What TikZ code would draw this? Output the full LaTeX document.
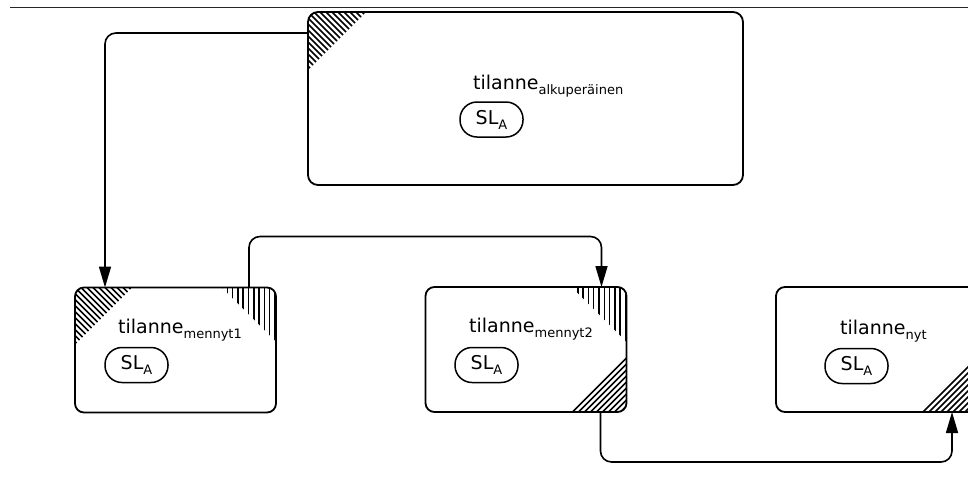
\documentclass[tikz,border=0pt]{standalone}
\usepackage{fontspec}
\setmainfont{DejaVu Sans}
\usetikzlibrary{arrows.meta,calc}

% situation label: "tilanne" with a lowered subscript
\newcommand{\sitname}[1]{\fontsize{19}{22}\selectfont tilanne\raisebox{-5pt}{\fontsize{13}{14}\selectfont #1}}
\newcommand{\slA}{\fontsize{19}{22}\selectfont SL\raisebox{-5pt}{\fontsize{13}{14}\selectfont A}}

% hatched corner triangles, clipped to the rounded box
\newcommand{\hatchNW}[2]{%
  \begin{scope}
    \clip[rounded corners=9pt] (#1.north west) rectangle (#1.south east);
    \clip (#1.north west) -- ++(#2,0) -- ++(-#2,#2) -- cycle;
    \foreach \c in {-66,-60,...,66}
      \draw[hatchline] ($(#1.north west)+(\c-10,-10)$) -- ++(100,100);
  \end{scope}}
\newcommand{\hatchNE}[2]{%
  \begin{scope}
    \clip[rounded corners=9pt] (#1.north west) rectangle (#1.south east);
    \clip (#1.north east) -- ++(-#2,0) -- ++(#2,#2) -- cycle;
    \foreach \c in {1,6.3,...,70}
      \draw[hatchline] ($(#1.north east)+(-\c,-5)$) -- ++(0,90);
  \end{scope}}
\newcommand{\hatchSE}[2]{%
  \begin{scope}
    \clip[rounded corners=9pt] (#1.north west) rectangle (#1.south east);
    \clip (#1.south east) -- ++(-#2,0) -- ++(#2,-#2) -- cycle;
    \foreach \c in {-66,-60,...,10}
      \draw[hatchline] ($(#1.south east)+(\c-10,10)$) -- ++(100,-100);
  \end{scope}}

\begin{document}
\begin{tikzpicture}[x=1pt,y=-1pt,
  box/.style={draw,line width=1.8pt,rounded corners=9pt,inner sep=0pt,outer sep=0pt,
              minimum width=201pt,minimum height=125pt},
  bigbox/.style={box,rounded corners=10pt,minimum width=435pt,minimum height=173pt},
  pill/.style={draw,line width=1.5pt,rounded corners=17pt,inner sep=0pt,outer sep=0pt,
               minimum width=63pt,minimum height=35pt},
  label/.style={inner sep=0pt,anchor=base west},
  hatchline/.style={line width=1.5pt},
  conn/.style={line width=1.6pt,rounded corners=11pt,-{Triangle[length=21pt,width=12pt]}}]

\clip (0,0) rectangle (968,488);

% rule along the top
\draw[line width=1pt,black!85] (10,7) -- (968,7);

% situation boxes
\node[bigbox] (alk) at (525.5,98.5) {};
\node[box] (m1) at (175.5,350) {};
\node[box] (m2) at (526,349.5) {};
\node[box] (nyt) at (876.5,349.5) {};

% hatched corners
\hatchNW{alk}{58}
\hatchNW{m1}{57}
\hatchNE{m1}{54}
\hatchNE{m2}{55}
\hatchSE{m2}{56}
\hatchSE{nyt}{56}

% labels
\node[label] (talk) at (473,89) {\sitname{alkuperäinen}};
\node[label] (tm1) at (118,333) {\sitname{mennyt1}};
\node[label] (tm2) at (469,332) {\sitname{mennyt2}};
\node[label] (tnyt) at (840,334) {\sitname{nyt}};

% SL_A pills
\node[pill] (palk) at (491.5,119.5) {\slA};
\node[pill] (pm1) at (136.5,365) {\slA};
\node[pill] (pm2) at (486.5,365) {\slA};
\node[pill] (pnyt) at (856.5,366) {\slA};

% connectors
\draw[conn] ([yshift=-21pt]alk.north west) -| ([xshift=30pt]m1.north west);
\draw[conn] ([xshift=174pt]m1.north west) -- ++(0,-51) -| ([xshift=176pt]m2.north west);
\draw[conn] ([xshift=175pt]m2.south west) -- ++(0,50) -| ([xshift=176pt]nyt.south west);
\end{tikzpicture}
\end{document}
